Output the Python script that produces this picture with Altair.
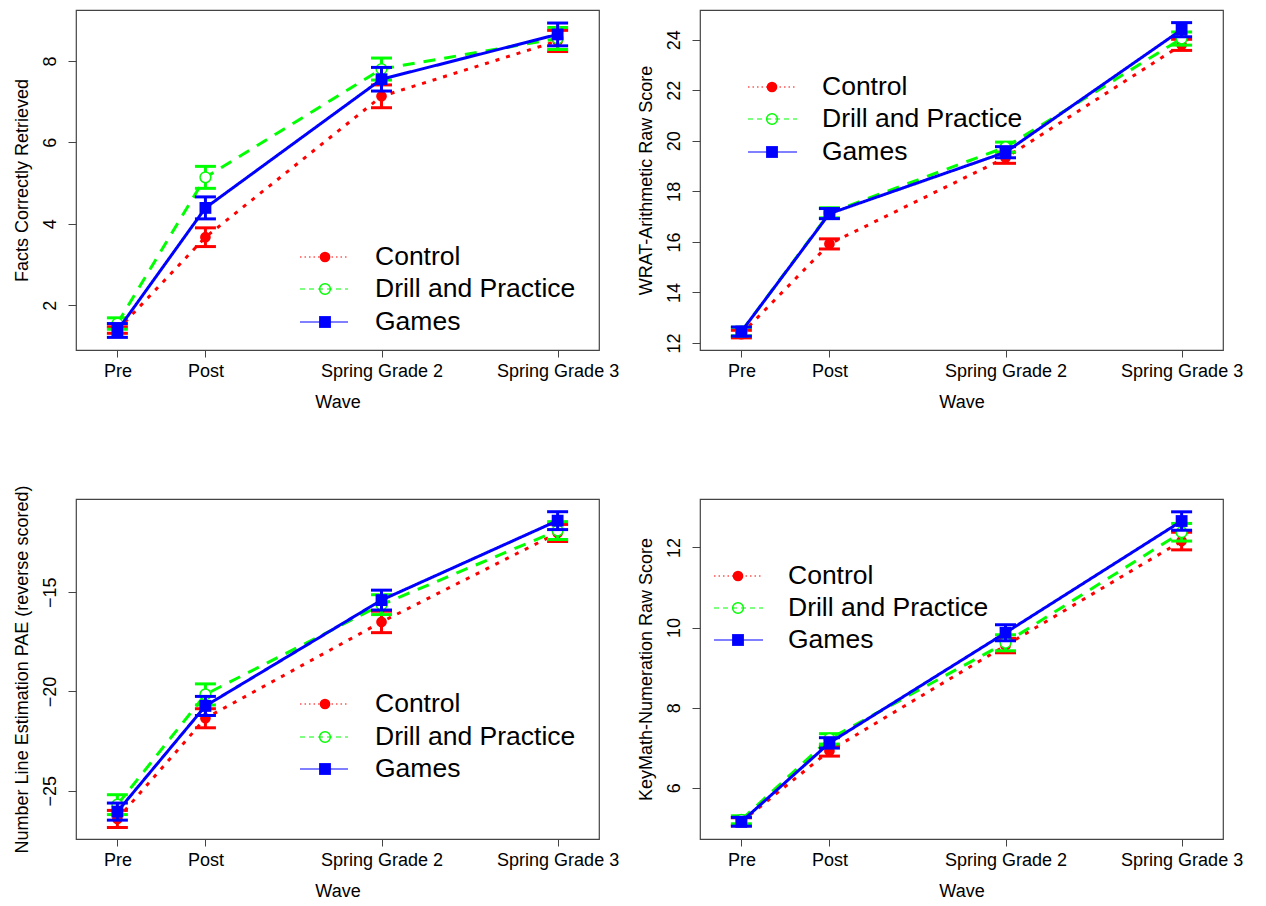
import altair as alt
import pandas as pd

# ---------------- data ----------------
waves = ["Pre", "Post", "Spring Grade 2", "Spring Grade 3"]
wave_pos = [1, 2, 4, 6]
groups = ["Control", "Drill and Practice", "Games"]

# Facts Correctly Retrieved
facts_control = [1.39, 3.67, 7.13, 8.49]
facts_control_se = [0.08, 0.23, 0.28, 0.26]
facts_drill = [1.55, 5.14, 7.80, 8.55]
facts_drill_se = [0.14, 0.27, 0.27, 0.27]
facts_games = [1.38, 4.39, 7.55, 8.65]
facts_games_se = [0.17, 0.27, 0.29, 0.28]

# WRAT-Arithmetic Raw Score
wrat_control = [12.35, 15.92, 19.33, 23.80]
wrat_control_se = [0.15, 0.20, 0.22, 0.22]
wrat_drill = [12.45, 17.15, 19.75, 24.05]
wrat_drill_se = [0.17, 0.20, 0.20, 0.26]
wrat_games = [12.45, 17.12, 19.55, 24.40]
wrat_games_se = [0.18, 0.20, 0.22, 0.28]

# Number Line Estimation PAE (reverse scored)
nl_control = [-26.42, -21.35, -16.50, -12.02]
nl_control_se = [0.43, 0.48, 0.54, 0.43]
nl_drill = [-25.70, -20.15, -15.63, -11.90]
nl_drill_se = [0.50, 0.53, 0.50, 0.45]
nl_games = [-26.05, -20.73, -15.40, -11.40]
nl_games_se = [0.43, 0.48, 0.50, 0.45]

# KeyMath-Numeration Raw Score
km_control = [5.15, 6.92, 9.55, 12.16]
km_control_se = [0.10, 0.13, 0.18, 0.22]
km_drill = [5.20, 7.22, 9.62, 12.38]
km_drill_se = [0.10, 0.13, 0.20, 0.22]
km_games = [5.15, 7.12, 9.87, 12.66]
km_games_se = [0.11, 0.13, 0.20, 0.23]

# ---------------- styles ----------------
colors = {"Control": "#FF0000", "Drill and Practice": "#00FF00", "Games": "#0000FF"}
dashes = {"Control": [4, 7], "Drill and Practice": [12, 9], "Games": [1, 0]}
leg_dashes = {"Control": [1.5, 3], "Drill and Practice": [5, 4], "Games": [1, 0]}
FONT = "Liberation Sans"
PW, PH = 523, 340

label_expr = " : ".join(
    f"datum.value == {p} ? '{w}'" for p, w in zip(wave_pos, waves)
) + " : ''"


def make_df(means, ses):
    rows = []
    for g, m, s in zip(groups, means, ses):
        for xp, mv, sv in zip(wave_pos, m, s):
            rows.append({"group": g, "x": xp, "mean": mv, "lo": mv - sv, "hi": mv + sv})
    return pd.DataFrame(rows)


def point_mark(g, size_c=115, size_s=140, legend=False):
    c = colors[g]
    if g == "Control":
        return dict(shape="circle", filled=True, color=c, size=size_c, opacity=1)
    if g == "Drill and Practice":
        if legend:
            return dict(shape="circle", filled=False, color=c, strokeWidth=1.5,
                        size=size_c, opacity=1)
        return dict(shape="circle", filled=True, fill="white", stroke=c,
                    strokeWidth=1.5, size=size_c, opacity=1)
    return dict(shape="square", filled=True, color=c, size=size_s, opacity=1)


def panel(df, ytitle, ydomain, yticks, leg):
    xenc = alt.X("x:Q",
                 scale=alt.Scale(domain=[0.53, 6.47], nice=False, zero=False),
                 axis=alt.Axis(values=wave_pos, labelExpr=label_expr, title="Wave",
                               labelPadding=5, titlePadding=13, tickSize=7,
                               grid=False, domain=False))
    yenc = alt.Y("mean:Q",
                 scale=alt.Scale(domain=ydomain, nice=False, zero=False),
                 axis=alt.Axis(values=yticks, title=ytitle, labelAngle=270,
                               labelAlign="center", labelBaseline="bottom",
                               labelPadding=9, titlePadding=10, tickSize=8,
                               grid=False, domain=False))
    layers = []
    for g in groups:
        d = df[df["group"] == g]
        c = colors[g]
        base = alt.Chart(d)
        layers.append(base.mark_line(color=c, strokeWidth=3, strokeDash=dashes[g])
                      .encode(x=xenc, y=yenc))
        layers.append(base.mark_rule(color=c, strokeWidth=3)
                      .encode(x="x:Q", y="lo:Q", y2="hi:Q"))
        layers.append(base.mark_tick(color=c, thickness=3, size=21, orient="horizontal", opacity=1)
                      .encode(x="x:Q", y="lo:Q"))
        layers.append(base.mark_tick(color=c, thickness=3, size=21, orient="horizontal", opacity=1)
                      .encode(x="x:Q", y="hi:Q"))
        layers.append(base.mark_point(**point_mark(g)).encode(x="x:Q", y="mean:Q"))
    # legend
    x0, x1, xp, xt, ys = leg
    for g, yy in zip(groups, ys):
        ld = pd.DataFrame({"label": [g]})
        lb = alt.Chart(ld)
        layers.append(lb.mark_rule(color=colors[g], strokeWidth=1.2, strokeDash=leg_dashes[g])
                      .encode(x=alt.value(x0), x2=alt.value(x1), y=alt.value(yy)))
        layers.append(lb.mark_point(**point_mark(g, legend=True))
                      .encode(x=alt.value(xp), y=alt.value(yy)))
        layers.append(lb.mark_text(align="left", baseline="middle", font=FONT,
                                   fontSize=26.5, color="black")
                      .encode(x=alt.value(xt), y=alt.value(yy), text="label:N"))
    return alt.layer(*layers).properties(width=PW, height=PH)


tl = panel(make_df([facts_control, facts_drill, facts_games],
                   [facts_control_se, facts_drill_se, facts_games_se]),
           "Facts Correctly Retrieved", [0.9, 9.25], [2, 4, 6, 8],
           (224, 272, 249, 299, [247, 279, 312]))
tr = panel(make_df([wrat_control, wrat_drill, wrat_games],
                   [wrat_control_se, wrat_drill_se, wrat_games_se]),
           "WRAT-Arithmetic Raw Score", [11.72, 25.18], [12, 14, 16, 18, 20, 22, 24],
           (48, 97, 72, 122, [77, 109, 142]))
bl = panel(make_df([nl_control, nl_drill, nl_games],
                   [nl_control_se, nl_drill_se, nl_games_se]),
           "Number Line Estimation PAE (reverse scored)", [-27.43, -10.31], [-25, -20, -15],
           (224, 272, 249, 299, [205, 238, 270]))
br = panel(make_df([km_control, km_drill, km_games],
                   [km_control_se, km_drill_se, km_games_se]),
           "KeyMath-Numeration Raw Score", [4.72, 13.21], [6, 8, 10, 12],
           (14, 63, 38, 88, [77, 109, 141]))

chart = alt.concat(tl, tr, bl, br, columns=2, spacing={"row": 149, "column": 101},
                   bounds="flush").properties(
    padding={"left": 4, "top": 1, "right": 5, "bottom": 5},
    background="white"
).configure_view(
    stroke="#444444", strokeWidth=1.2
).configure_axis(
    grid=False, domain=False, tickColor="#444444", tickWidth=1,
    labelFont=FONT, labelFontSize=18, labelColor="black",
    titleFont=FONT, titleFontSize=18, titleFontWeight="normal", titleColor="black"
)

chart.save("out.html", embed_options={"renderer": "svg", "actions": False})
